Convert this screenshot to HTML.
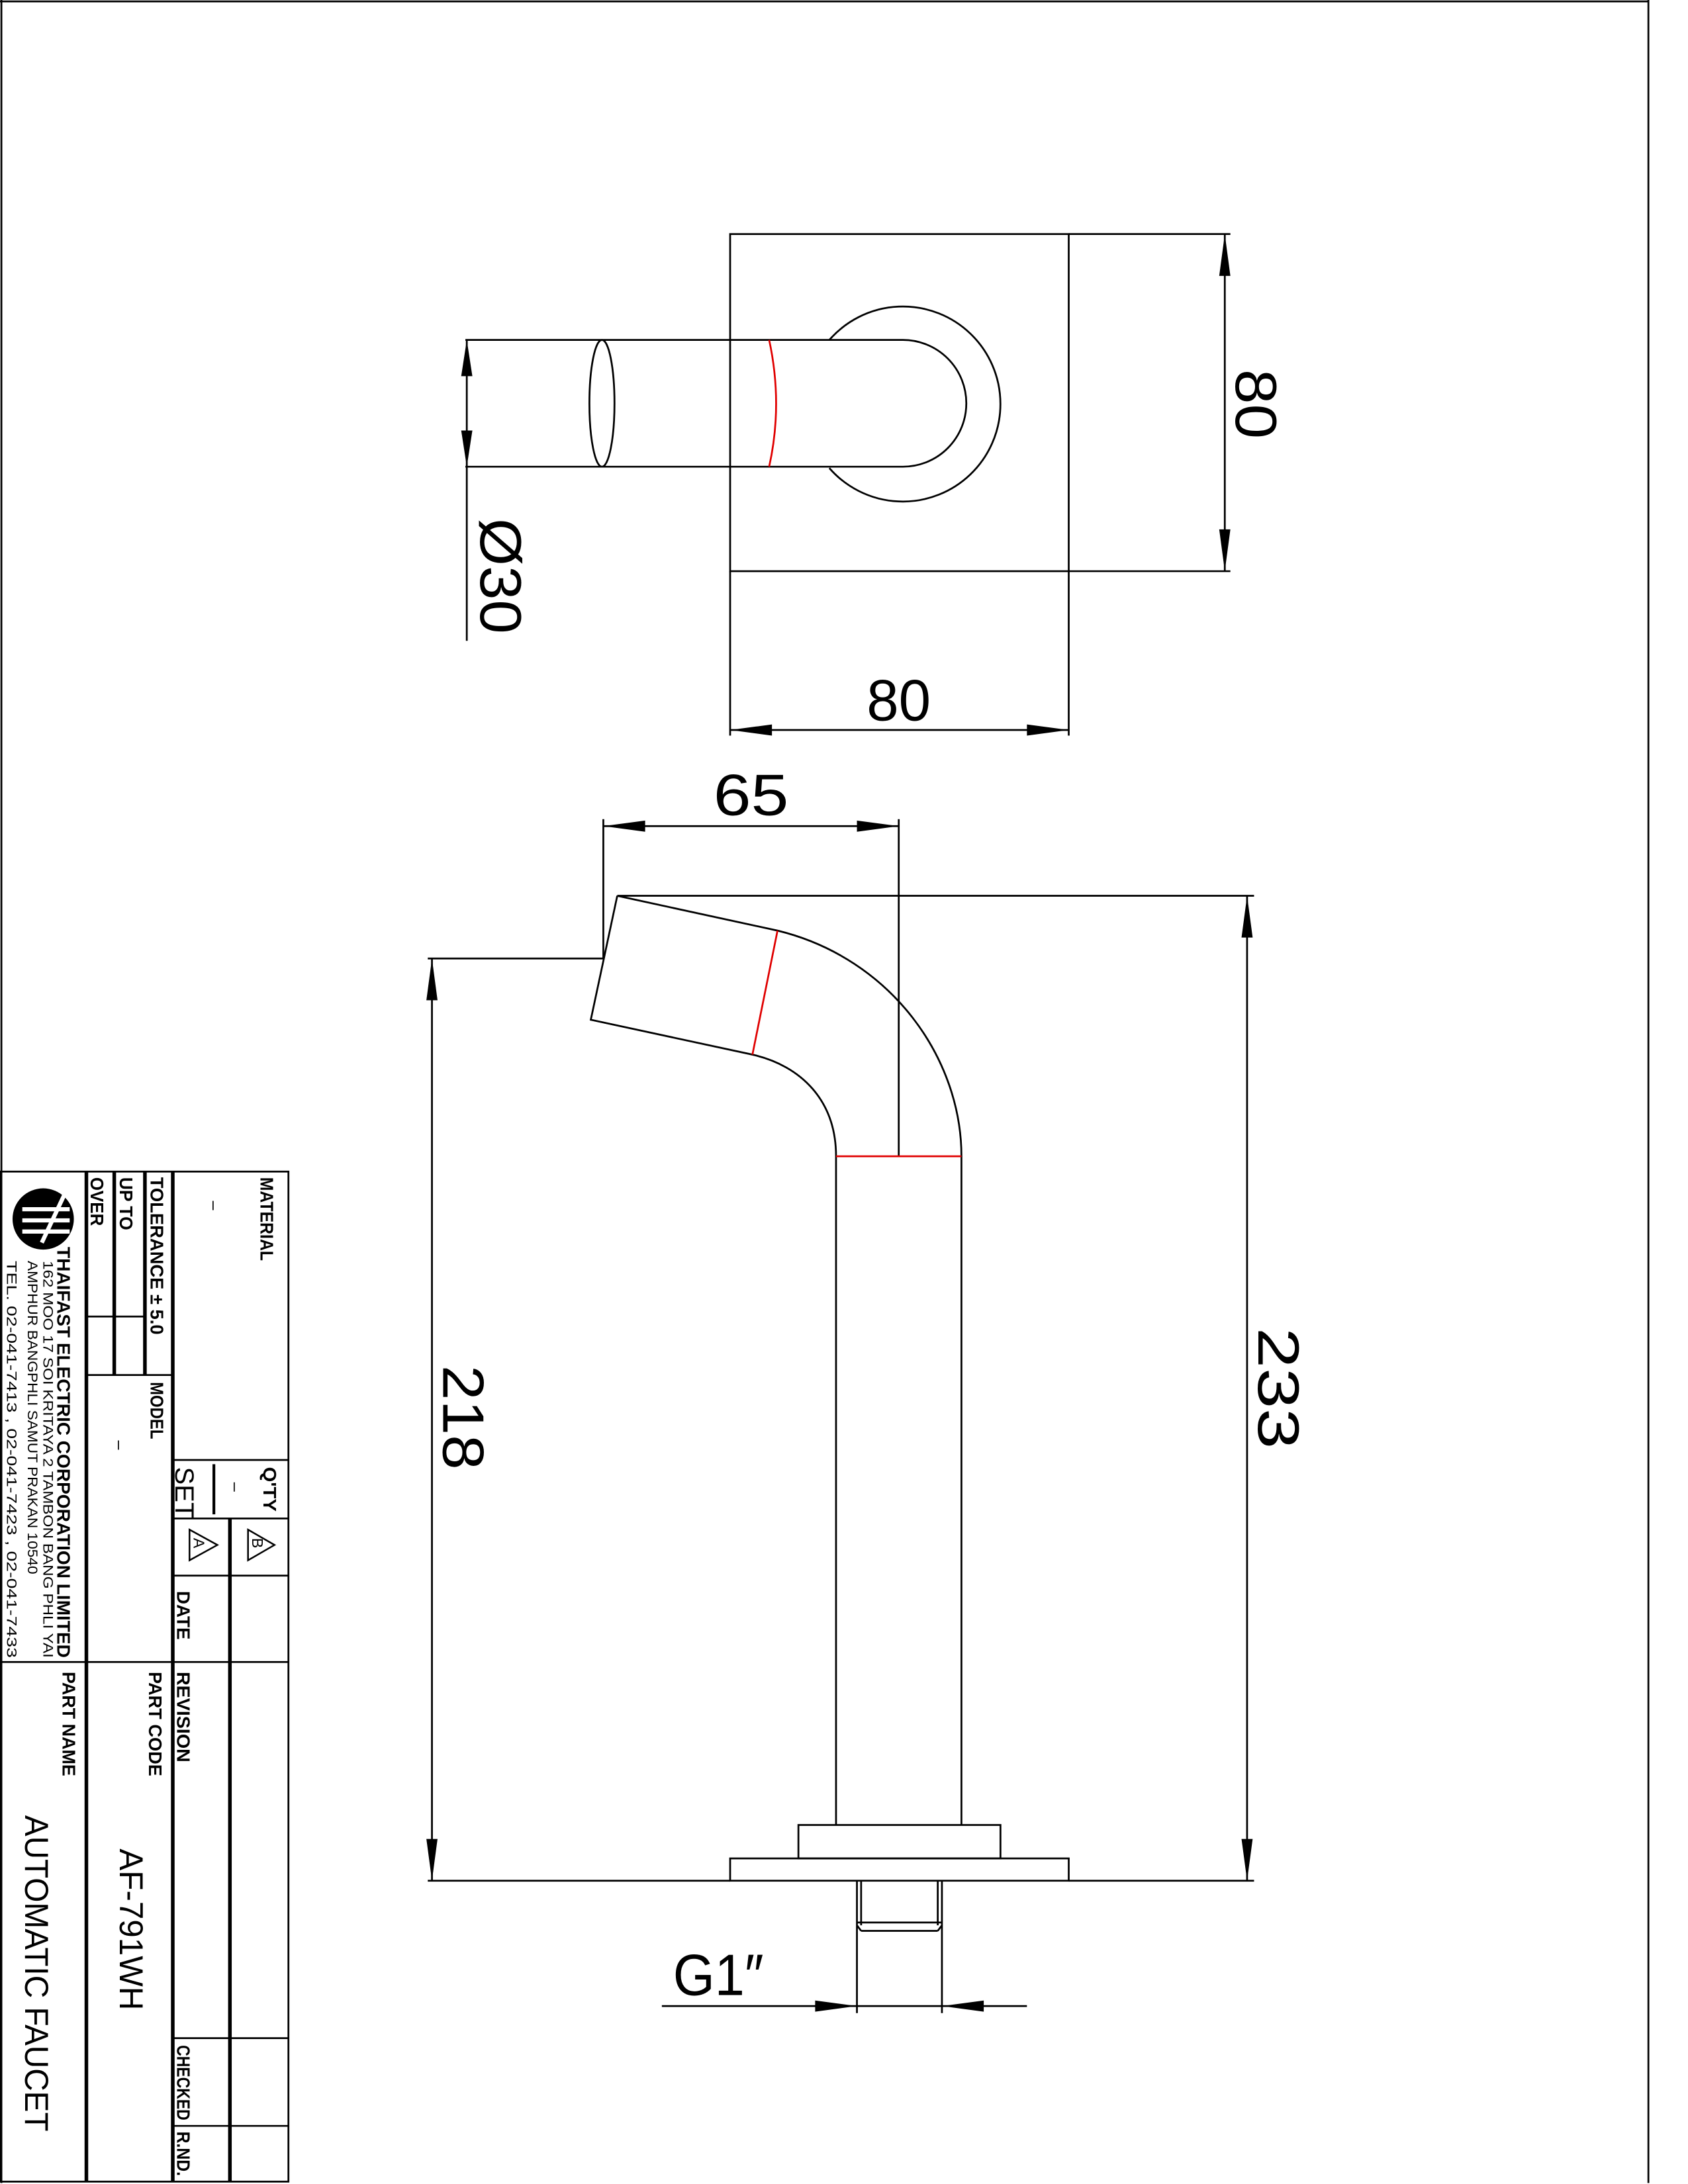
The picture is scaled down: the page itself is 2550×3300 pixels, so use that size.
<!DOCTYPE html>
<html><head><meta charset="utf-8"><style>
html,body{margin:0;padding:0;background:#fff}
svg{display:block}
text{font-family:"Liberation Sans Narrow","Liberation Sans",sans-serif;fill:#000}
</style></head><body>
<svg width="2550" height="3300" viewBox="0 0 1211.43 1567.7" xmlns="http://www.w3.org/2000/svg">
<rect width="1211.43" height="1567.7" fill="#fff"/>
<g fill="none" stroke="#000" stroke-width="1.3">
<path d="M1 0V1567M0 1 H1183 M1183 0V1567"/>
<rect x="524" y="168" width="243" height="242"/>
<path d="M767 168H883 M767 410H883 M879 168V410"/>
<path d="M524 410V528 M767 410V528 M524 524H767"/>
<path d="M334 244H648 M334 335H648 M648 244 A45.5 45.5 0 0 1 648 335"/>
<ellipse cx="432" cy="289.5" rx="9" ry="45.5"/>
<path d="M595.2 244 A70 70 0 1 1 595.2 336"/>
<path d="M335 244V460"/>
<path d="M433 588V688 M645 588V830 M433 593H645"/>
<path d="M443 643H900 M895 643V1350"/>
<path d="M307 688H433 M310 688V1350 M307 1350H524 M767 1350H900"/>
<path d="M443 643L424 732L540 757 C575 765 600 790 600 830 V1310"/>
<path d="M443 643L558 668 C640 688 690 760 690 830 V1310"/>
<rect x="573" y="1310" width="145" height="24"/>
<rect x="524" y="1334" width="243" height="16"/>
<path d="M615 1350V1445 M676 1350V1445 M618 1350V1382 M673 1350V1382 M615 1380H676 M618 1386H673 M615 1382L618 1386 M676 1382L673 1386"/>
<path d="M475 1440H737"/>
</g>
<g fill="none" stroke="#e00000" stroke-width="1.3">
<path d="M552 244 Q562 290 552 335"/>
<path d="M558 668L540 757"/>
<path d="M600 830H690"/>
</g>
<g fill="#000">
<polygon points="879,168 875,198 883,198"/>
<polygon points="879,410 875,380 883,380"/>
<polygon points="524,524 554,520 554,528"/>
<polygon points="767,524 737,520 737,528"/>
<polygon points="335,244 331,270 339,270"/>
<polygon points="335,335 331,309 339,309"/>
<polygon points="433,593 463,589 463,597"/>
<polygon points="645,593 615,589 615,597"/>
<polygon points="895,643 891,673 899,673"/>
<polygon points="895,1350 891,1320 899,1320"/>
<polygon points="310,688 306,718 314,718"/>
<polygon points="310,1350 306,1320 314,1320"/>
<polygon points="615,1440 585,1436 585,1444"/>
<polygon points="676,1440 706,1436 706,1444"/>
</g>
<g font-size="42">
<text x="622" y="517" textLength="46" lengthAdjust="spacingAndGlyphs">80</text>
<text x="512" y="585" textLength="54" lengthAdjust="spacingAndGlyphs">65</text>
<text x="483" y="1432" textLength="65" lengthAdjust="spacingAndGlyphs">G1″</text>
<text transform="translate(887,265) rotate(90)" textLength="50" lengthAdjust="spacingAndGlyphs">80</text>
<text transform="translate(345,372) rotate(90)" textLength="83" lengthAdjust="spacingAndGlyphs">Ø30</text>
<text transform="translate(903,953) rotate(90)" textLength="87" lengthAdjust="spacingAndGlyphs">233</text>
<text transform="translate(318,980) rotate(90)" textLength="75" lengthAdjust="spacingAndGlyphs">218</text>
</g>
<g fill="none" stroke="#000" stroke-width="1.3">
<path d="M0 841H207V1566H0Z"/>
<path d="M0 1193H207"/>
<path d="M62 945H104 M62 987H124 M124 1048H207 M124 1090H207 M124 1131H207 M124 1463H207 M124 1526H207"/>
</g>
<path d="M153.5 1051V1087" stroke="#000" stroke-width="2"/>
<g fill="none" stroke="#000" stroke-width="2.6">
<path d="M62 841V1566 M124 841V1566 M82 841V987 M104 841V987 M165 1090V1566"/>
</g>
<g fill="none" stroke="#000" stroke-width="1.2">
<polygon points="136,1098 136,1120 156,1109"/>
<polygon points="178,1098 178,1120 197,1109"/>
</g>
<g font-size="13" font-weight="bold">
<text transform="translate(187,845) rotate(90)" textLength="60" lengthAdjust="spacingAndGlyphs">MATERIAL</text>
<text transform="translate(108,845) rotate(90)" textLength="113" lengthAdjust="spacingAndGlyphs">TOLERANCE ± 5.0</text>
<text transform="translate(86,845) rotate(90)" textLength="38" lengthAdjust="spacingAndGlyphs">UP TO</text>
<text transform="translate(65,845) rotate(90)" textLength="35" lengthAdjust="spacingAndGlyphs">OVER</text>
<text transform="translate(108,992) rotate(90)" textLength="41" lengthAdjust="spacingAndGlyphs">MODEL</text>
<text transform="translate(189,1053) rotate(90)" textLength="32" lengthAdjust="spacingAndGlyphs">Q'TY</text>
<text transform="translate(127,1142) rotate(90)" textLength="35" lengthAdjust="spacingAndGlyphs">DATE</text>
<text transform="translate(127,1200) rotate(90)" textLength="65" lengthAdjust="spacingAndGlyphs">REVISION</text>
<text transform="translate(107,1200) rotate(90)" textLength="75" lengthAdjust="spacingAndGlyphs">PART CODE</text>
<text transform="translate(45,1200) rotate(90)" textLength="75" lengthAdjust="spacingAndGlyphs">PART NAME</text>
<text transform="translate(127,1468) rotate(90)" textLength="54" lengthAdjust="spacingAndGlyphs">CHECKED</text>
<text transform="translate(127,1530) rotate(90)" textLength="32" lengthAdjust="spacingAndGlyphs">R.ND.</text>
<text transform="translate(41,895) rotate(90)" textLength="295" lengthAdjust="spacingAndGlyphs">THAIFAST ELECTRIC CORPORATION LIMITED</text>
</g>
<g font-size="12">
<text transform="translate(126,1053) rotate(90)" font-size="19" textLength="37" lengthAdjust="spacingAndGlyphs">SET</text>
<text transform="translate(139,1104) rotate(90)" font-size="11">A</text>
<text transform="translate(181,1104) rotate(90)" font-size="11">B</text>
<text transform="translate(150,862) rotate(90)">–</text>
<text transform="translate(82,1034) rotate(90)">–</text>
<text transform="translate(165,1064) rotate(90)">–</text>
</g>
<g font-size="10">
<text transform="translate(31,905) rotate(90)" textLength="285" lengthAdjust="spacingAndGlyphs">162 MOO 17 SOI KRITAYA 2 TAMBON BANG PHLI YAI</text>
<text transform="translate(20,905) rotate(90)" textLength="225" lengthAdjust="spacingAndGlyphs">AMPHUR BANGPHLI SAMUT PRAKAN 10540</text>
<text transform="translate(5,905) rotate(90)" textLength="285" lengthAdjust="spacingAndGlyphs">TEL. 02-041-7413 , 02-041-7423 , 02-041-7433</text>
</g>
<g font-size="24">
<text transform="translate(86,1327) rotate(90)" textLength="116" lengthAdjust="spacingAndGlyphs">AF-791WH</text>
<text transform="translate(18,1303) rotate(90)" textLength="227" lengthAdjust="spacingAndGlyphs">AUTOMATIC FAUCET</text>
</g>
<circle cx="31" cy="875" r="22" fill="#000"/>
<g stroke="#fff" stroke-width="3">
<path d="M16 868H50 M16 876H50 M16 884H50"/>
<path d="M46 858L30 892"/>
</g>
</svg>
</body></html>
